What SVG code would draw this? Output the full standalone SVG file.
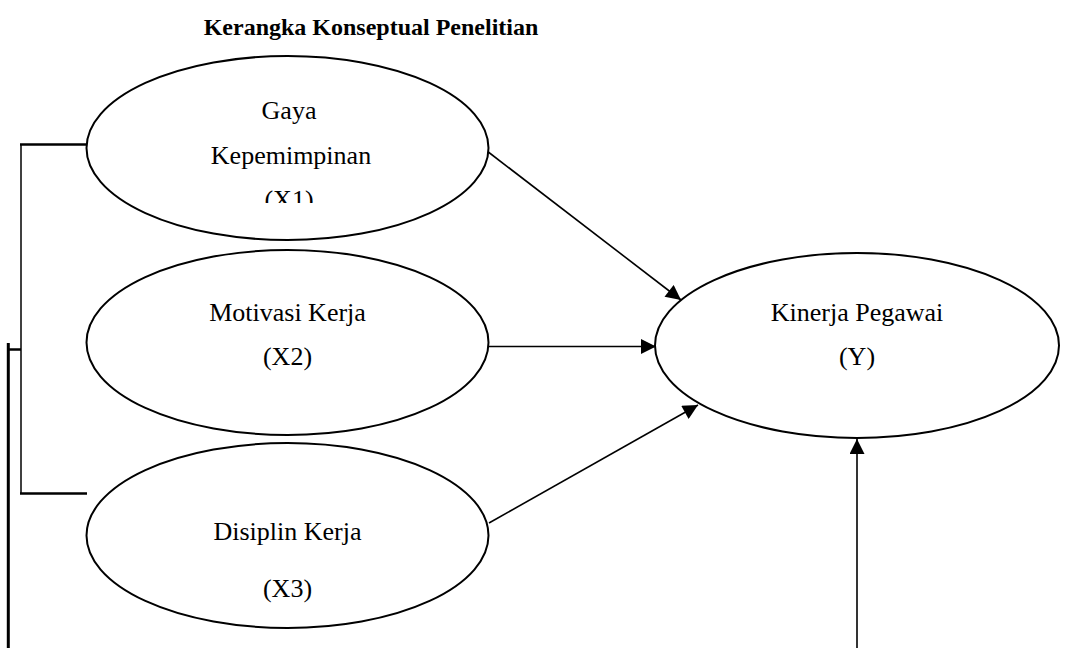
<svg xmlns="http://www.w3.org/2000/svg" width="1065" height="648" viewBox="0 0 1065 648">
  <style>
    .node { fill: #ffffff; stroke: #000000; stroke-width: 2; }
    .lbl { font-family: "Liberation Serif", "Times New Roman", serif; font-size: 26px; fill: #000000; text-anchor: middle; }
    .title { font-family: "Liberation Serif", "Times New Roman", serif; font-size: 24px; font-weight: bold; fill: #000000; text-anchor: middle; }
    .conn { stroke: #000000; stroke-width: 1.6; fill: none; }
    .brk { stroke: #000000; fill: none; }
  </style>
  <defs>
    <marker id="arrowL" viewBox="0 0 10 10" refX="10" refY="5" markerWidth="16" markerHeight="15" markerUnits="userSpaceOnUse" orient="auto">
      <path d="M0,0 L10,5 L0,10 Z" fill="#000000"/>
    </marker>
    <clipPath id="clipX1">
      <rect x="86" y="56" width="404" height="147"/>
    </clipPath>
  </defs>
  <rect width="1065" height="648" fill="#ffffff"/>
  <text class="title" x="371" y="35">Kerangka Konseptual Penelitian</text>

  <g id="connectors">
    <line class="brk" x1="21" y1="144" x2="21" y2="494" stroke-width="1.5"/>
    <line class="brk" x1="20" y1="144.5" x2="87" y2="144.5" stroke-width="2.5"/>
    <line class="brk" x1="20" y1="493.5" x2="87" y2="493.5" stroke-width="2.5"/>
    <line class="brk" x1="7" y1="349.5" x2="21" y2="349.5" stroke-width="2.5"/>
    <line class="brk" x1="8.3" y1="343" x2="8.3" y2="648" stroke-width="3"/>
    <line class="conn" x1="487" y1="151" x2="681" y2="300" marker-end="url(#arrowL)"/>
    <line class="conn" x1="489" y1="346.5" x2="656" y2="346.5" marker-end="url(#arrowL)"/>
    <line class="conn" x1="489" y1="523" x2="698" y2="405" marker-end="url(#arrowL)"/>
    <line class="conn" x1="857" y1="648" x2="857" y2="439" marker-end="url(#arrowL)"/>
  </g>

  <g id="node-x1">
    <ellipse class="node" cx="287.5" cy="148" rx="201" ry="92"/>
    <g clip-path="url(#clipX1)">
      <text class="lbl" x="289" y="119">Gaya</text>
      <text class="lbl" x="291" y="164">Kepemimpinan</text>
      <text class="lbl" x="289" y="208">(X1)</text>
    </g>
  </g>
  <g id="node-x2">
    <ellipse class="node" cx="287.5" cy="342.5" rx="201" ry="92.5"/>
    <text class="lbl" x="287.5" y="321">Motivasi Kerja</text>
    <text class="lbl" x="287.5" y="365">(X2)</text>
  </g>
  <g id="node-x3">
    <ellipse class="node" cx="287.5" cy="535.5" rx="201" ry="92.5"/>
    <text class="lbl" x="287.5" y="540">Disiplin Kerja</text>
    <text class="lbl" x="287.5" y="597">(X3)</text>
  </g>
  <g id="node-y">
    <ellipse class="node" cx="857" cy="345.5" rx="202" ry="92.5"/>
    <text class="lbl" x="857" y="321">Kinerja Pegawai</text>
    <text class="lbl" x="857" y="365">(Y)</text>
  </g>
</svg>
